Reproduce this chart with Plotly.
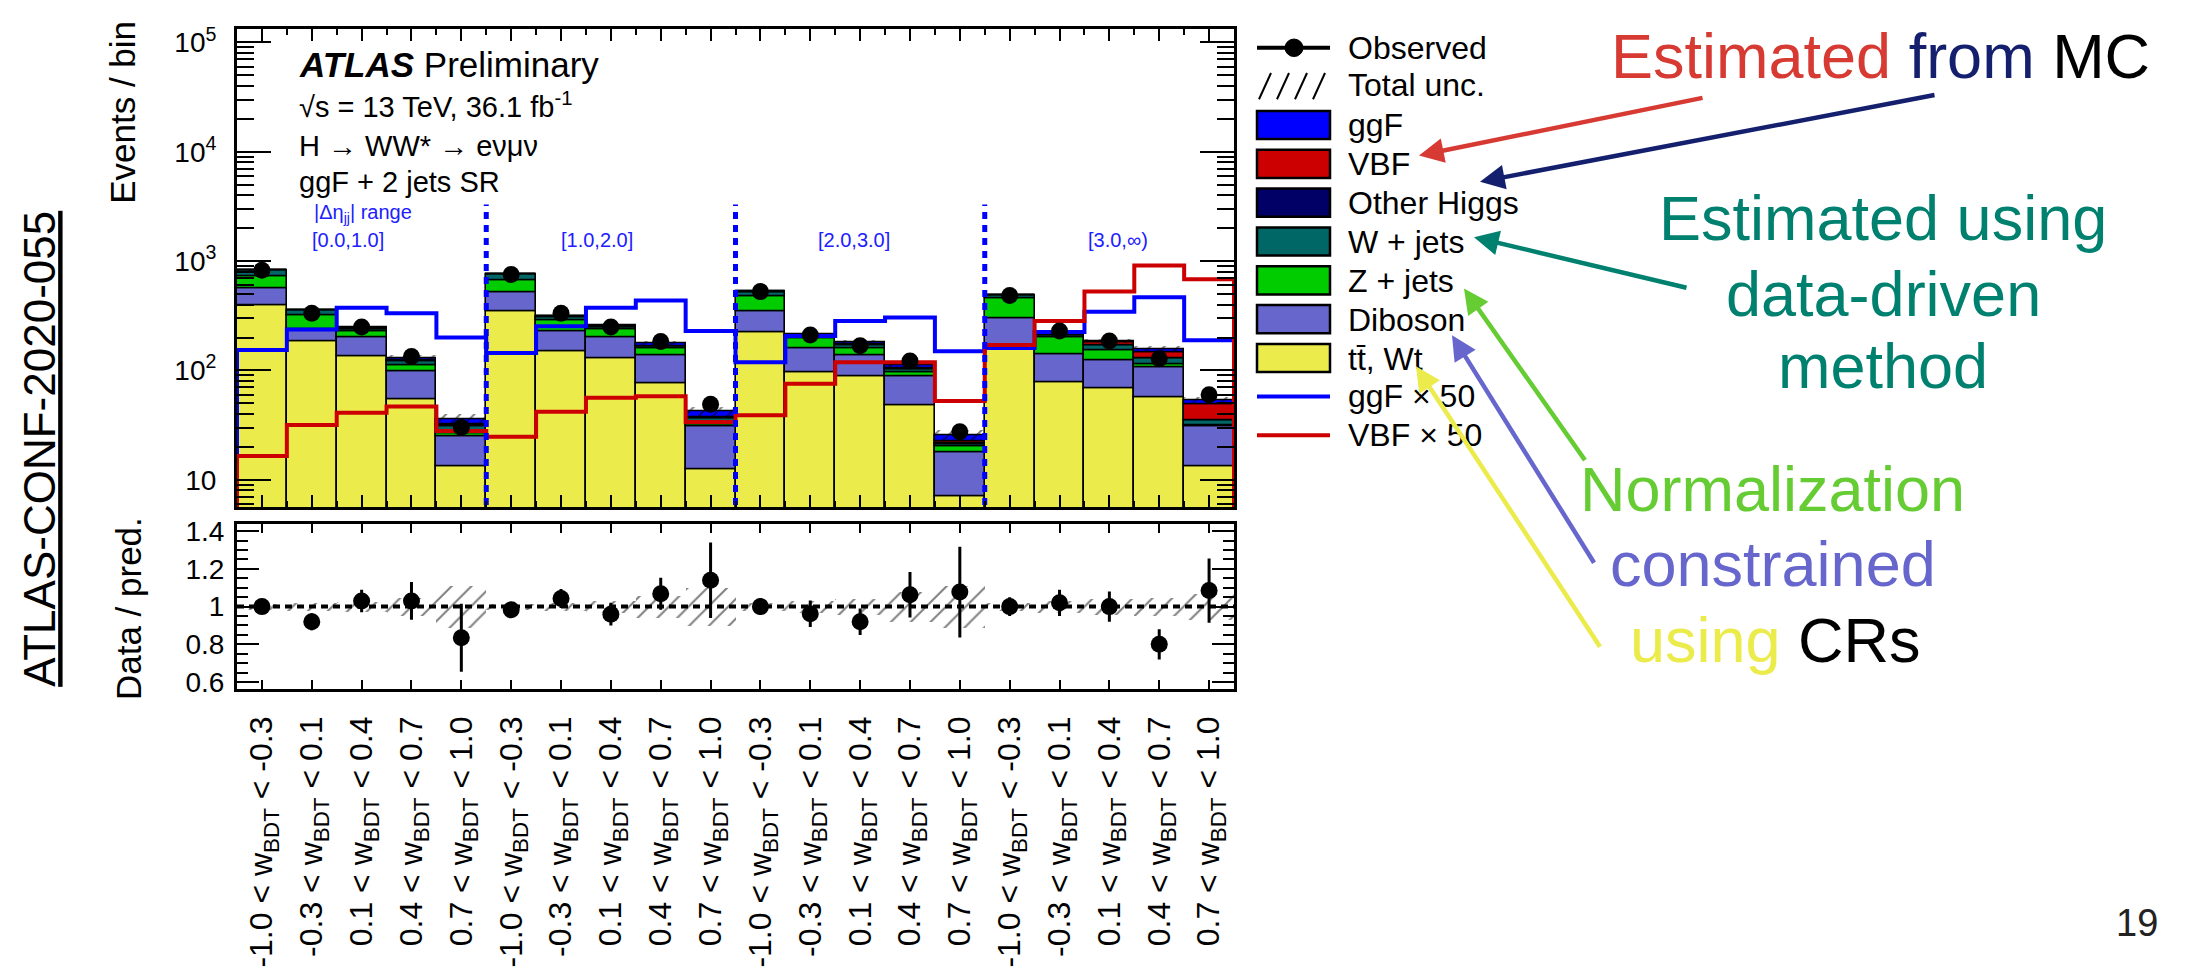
import numpy as np
import plotly.graph_objects as go

W, H = 2185, 968
FONT = "Liberation Sans, Arial, Helvetica, sans-serif"


def px(x):
    return x / W


def py(y):
    return 1 - y / H


# ---------------- data ----------------
bin_centers = [i + 0.5 for i in range(20)]
bin_edges = list(range(21))
bdt_ranges = [("-1.0", "-0.3"), ("-0.3", "0.1"), ("0.1", "0.4"), ("0.4", "0.7"), ("0.7", "1.0")]
tick_labels = [f"{lo} &lt; w<sub>BDT</sub> &lt; {hi}" for _ in range(4) for lo, hi in bdt_ranges]
region_labels = ["[0.0,1.0]", "[1.0,2.0]", "[2.0,3.0]", "[3.0,∞)"]

ttbar = [395, 186, 136, 54.5, 13.4, 344, 150, 130, 76.6, 12.5,
         221, 97, 88, 47.5, 7.0, 165, 77.6, 69, 56.4, 13.4]
diboson = [169, 51, 66, 44.5, 11.4, 175, 79, 72, 60.4, 18,
           128, 63, 49, 40.5, 10.9, 136, 62.4, 56, 49.6, 17.1]
zjets = [166, 84, 27, 12, 1.7, 154, 56, 38, 23, 1.5,
         126, 37, 23, 7.3, 2.3, 152, 60, 29, 8, 1.0]
wjets = [90, 30, 10, 11, 4.5, 78, 24, 9, 5, 4.5,
         47, 10, 11.4, 6.7, 1.0, 30, 10, 14, 14, 3.5]
other_higgs = [1, 0.5, 0.5, 0.5, 0.3, 1, 0.5, 0.5, 0.5, 0.3,
               1, 0.5, 0.5, 0.5, 0.3, 1, 0.5, 0.5, 1, 0.3]
ggf_x50 = [154, 237, 374, 333, 200, 144, 254, 374, 437, 229,
           119, 206, 284, 305, 150, 160, 225, 344, 468, 189]
vbf_x50 = [16.5, 31.7, 41, 46.9, 27.9, 24.8, 42, 56.4, 58, 33.7,
           39, 75.5, 119, 119, 52.6, 171, 284, 526, 914, 683]
observed = [826, 333, 250, 134, 30, 755, 333, 250, 184, 49,
            526, 211, 168, 122, 27.5, 485, 229, 186, 128, 60]
ratio = [1.00, 0.92, 1.03, 1.03, 0.835, 0.983, 1.043, 0.96, 1.068, 1.14,
         1.00, 0.962, 0.92, 1.063, 1.077, 1.00, 1.02, 1.00, 0.80, 1.085]
ratio_err = [0.02, 0.045, 0.06, 0.1, 0.18, 0.025, 0.05, 0.06, 0.085, 0.2,
             0.045, 0.07, 0.07, 0.12, 0.24, 0.05, 0.07, 0.08, 0.08, 0.17]
total_unc = [0.015, 0.02, 0.025, 0.05, 0.11, 0.015, 0.02, 0.03, 0.06, 0.1,
             0.02, 0.03, 0.04, 0.08, 0.11, 0.02, 0.03, 0.04, 0.05, 0.07]
divider_top = 3300

ggf = [v / 50 for v in ggf_x50]
vbf = [v / 50 for v in vbf_x50]

colors = {
    "ggF": "#0000ff", "VBF": "#cc0000", "Other Higgs": "#000066",
    "W + jets": "#006666", "Z + jets": "#00cc00", "Diboson": "#6666cc",
    "tt": "#ebeb4b",
}

stack = [
    ("tt̄, Wt", ttbar, colors["tt"]),
    ("Diboson", diboson, colors["Diboson"]),
    ("Z + jets", zjets, colors["Z + jets"]),
    ("W + jets", wjets, colors["W + jets"]),
    ("Other Higgs", other_higgs, colors["Other Higgs"]),
    ("VBF", vbf, colors["VBF"]),
    ("ggF", ggf, colors["ggF"]),
]

fig = go.Figure()

cum = np.zeros(20)
for i, (name, vals, col) in enumerate(stack):
    vals = np.array(vals, dtype=float)
    fig.add_trace(go.Bar(
        x=bin_centers, y=vals, base=(None if i == 0 else cum.copy()), width=1,
        marker=dict(color=col, line=dict(color="black", width=1.6)),
        xaxis="x", yaxis="y", showlegend=False, name=name))
    cum = cum + vals
total = cum

# total uncertainty hatch on main panel
unc = np.array(total_unc)
fig.add_trace(go.Bar(
    x=bin_centers, y=total * 2 * unc, base=total * (1 - unc), width=1,
    marker=dict(color="rgba(0,0,0,0)", line=dict(width=0),
                pattern=dict(shape="/", fgcolor="black", bgcolor="rgba(0,0,0,0)",
                             size=10, solidity=0.2)),
    xaxis="x", yaxis="y", showlegend=False))


def step_xy(vals):
    xs = [0] + bin_edges + [20]
    ys = [0.5] + list(vals) + [vals[-1], 0.5]
    return xs, ys


for vals, col in [(ggf_x50, colors["ggF"]), (vbf_x50, colors["VBF"])]:
    xs, ys = step_xy(vals)
    fig.add_trace(go.Scatter(x=xs, y=ys, mode="lines", line=dict(color=col, width=4, shape="hv"),
                             xaxis="x", yaxis="y", showlegend=False))

# region dividers
dx, dy = [], []
for e in [5, 10, 15]:
    dx += [e, e, None]
    dy += [0.5, divider_top, None]
fig.add_trace(go.Scatter(x=dx, y=dy, mode="lines",
                         line=dict(color="#0000ff", width=5, dash="7px,6px"),
                         xaxis="x", yaxis="y", showlegend=False))

# observed
fig.add_trace(go.Scatter(x=bin_centers, y=observed, mode="markers",
                         marker=dict(color="black", size=17),
                         xaxis="x", yaxis="y", showlegend=False))

# ratio panel
fig.add_trace(go.Bar(
    x=bin_centers, y=2 * unc, base=1 - unc, width=1,
    marker=dict(color="rgba(0,0,0,0)", line=dict(width=0),
                pattern=dict(shape="/", fgcolor="black", bgcolor="rgba(0,0,0,0)",
                             size=14, solidity=0.14)),
    xaxis="x2", yaxis="y2", showlegend=False))
fig.add_trace(go.Scatter(x=[0, 20], y=[1, 1], mode="lines",
                         line=dict(color="black", width=4, dash="7px,5px"),
                         xaxis="x2", yaxis="y2", showlegend=False))
fig.add_trace(go.Scatter(x=bin_centers, y=ratio, mode="markers",
                         marker=dict(color="black", size=17),
                         error_y=dict(type="data", array=ratio_err, color="black",
                                      thickness=3, width=0),
                         xaxis="x2", yaxis="y2", showlegend=False))

# ---------------- axes ----------------
xdom = [px(237), px(1234)]
log_minor = [m * 10 ** e for e in range(0, 6) for m in range(2, 10)]
ratio_minor = [round(0.55 + 0.05 * k, 2) for k in range(19)]

common_x = dict(range=[0, 20], showgrid=False, zeroline=False, showline=True,
                linewidth=3, linecolor="black", mirror="allticks", ticks="inside",
                tickcolor="black", tickwidth=2)

layout = dict(
    width=W, height=H, autosize=False,
    margin=dict(l=0, r=0, t=0, b=0),
    paper_bgcolor="white", plot_bgcolor="white",
    barmode="overlay", bargap=0,
    font=dict(family=FONT, color="black", size=28),
    xaxis=dict(domain=xdom, anchor="y", tickvals=bin_centers, ticklen=12,
               showticklabels=False,
               minor=dict(tickvals=bin_edges, ticklen=6, ticks="inside", tickwidth=2),
               **common_x),
    xaxis2=dict(domain=xdom, anchor="y2", tickvals=bin_centers, ticktext=tick_labels,
                tickangle=-90, ticklen=9, tickfont=dict(size=32, family=FONT),
                ticklabelstandoff=12, **common_x),
    yaxis=dict(domain=[py(515), py(23)], anchor="x", type="log", range=[0.75, 5.12],
               tickvals=[10, 100, 1000, 10000, 100000],
               ticktext=["10", "10<sup>2</sup>", "10<sup>3</sup>", "10<sup>4</sup>", "10<sup>5</sup>"],
               ticks="inside", ticklen=34, tickwidth=2, tickcolor="black",
               minor=dict(tickvals=log_minor, ticklen=17, ticks="inside", tickwidth=2),
               showline=True, linewidth=3, linecolor="black", mirror="allticks",
               showgrid=False, zeroline=False, tickfont=dict(size=28), ticklabelstandoff=12),
    yaxis2=dict(domain=[py(702), py(532)], anchor="x2", range=[0.565, 1.44],
                tickvals=[0.6, 0.8, 1.0, 1.2, 1.4], ticktext=["0.6", "0.8", "1", "1.2", "1.4"],
                ticks="inside", ticklen=22, tickwidth=2, tickcolor="black",
                minor=dict(tickvals=ratio_minor, ticklen=11, ticks="inside", tickwidth=2),
                showline=True, linewidth=3, linecolor="black", mirror="allticks",
                showgrid=False, zeroline=False, tickfont=dict(size=28), ticklabelstandoff=4),
)
fig.update_layout(**layout)

ann = []
shapes = []


def text(x, y, t, size, color="black", xanchor="left", angle=0):
    ann.append(dict(x=px(x), y=py(y), xref="paper", yref="paper", text=t, showarrow=False,
                    xanchor=xanchor, yanchor="middle", textangle=angle,
                    font=dict(family=FONT, size=size, color=color)))


# axis titles
text(123, 109, "Events / bin", 35, xanchor="center", angle=-90)
text(128, 620, "Data / pred.", 35, xanchor="center", angle=-90)
text(40, 455, "<u>ATLAS-CONF-2020-055</u>", 44, xanchor="center", angle=-90)

# labels inside the plot
text(297, 59, "<b><i>ATLAS</i></b> Preliminary", 35)
text(297, 101, "√s = 13 TeV, 36.1 fb<sup>-1</sup>", 29)
text(297, 143, "H → WW* → eνμν", 29)
text(297, 180, "ggF + 2 jets SR", 29)
text(312, 213, "|Δη<sub>jj</sub>| range", 20, color="#2020ff")
for lab, cx in zip(region_labels, [348, 597, 854, 1118]):
    text(cx, 240, lab, 20, color="#2020ff", xanchor="center")

# legend (drawn)
LX0, LX1, TX = 1257, 1330, 1346
shapes.append(dict(type="line", xref="paper", yref="paper", x0=px(LX0), x1=px(LX1),
                   y0=py(42), y1=py(42), line=dict(color="black", width=4)))
shapes.append(dict(type="circle", xref="paper", yref="paper", x0=px(1285), x1=px(1303),
                   y0=py(51), y1=py(33), fillcolor="black", line=dict(color="black", width=1)))
for k in range(4):
    x0 = LX0 + 2 + 18 * k
    shapes.append(dict(type="line", xref="paper", yref="paper", x0=px(x0), x1=px(x0 + 12),
                       y0=py(95), y1=py(68), line=dict(color="black", width=2)))
text(TX, 42, "Observed", 32)
text(TX, 80, "Total unc.", 32)
box_items = [("ggF", colors["ggF"]), ("VBF", colors["VBF"]), ("Other Higgs", colors["Other Higgs"]),
             ("W + jets", colors["W + jets"]), ("Z + jets", colors["Z + jets"]),
             ("Diboson", colors["Diboson"]), ("tt̄, Wt", colors["tt"])]
for k, (lab, col) in enumerate(box_items):
    y0 = 107 + 40 * k
    shapes.append(dict(type="rect", xref="paper", yref="paper", x0=px(LX0), x1=px(LX1),
                       y0=py(y0 + 29), y1=py(y0), fillcolor=col, line=dict(color="black", width=2.5)))
    text(TX, y0 + 15, lab, 32)
for k, (lab, col) in enumerate([("ggF × 50", colors["ggF"]), ("VBF × 50", colors["VBF"])]):
    yy = 401 + 40 * k
    shapes.append(dict(type="line", xref="paper", yref="paper", x0=px(LX0), x1=px(LX1),
                       y0=py(yy), y1=py(yy), line=dict(color=col, width=4)))
    text(TX, yy, lab, 32)

# right-side commentary
RED, NAVY, TEAL = "#d63a33", "#14206e", "#00806f"
GREEN, PURPLE, YELLOW = "#66cc33", "#6666cc", "#ebeb4b"
text(1880, 50, f"<span style='color:{RED}'>Estimated</span> <span style='color:{NAVY}'>from</span> MC",
     63, xanchor="center")
text(1883, 217, "Estimated using", 63, color=TEAL, xanchor="center")
text(1883, 296, "data-driven", 63, color=TEAL, xanchor="center")
text(1883, 370, "method", 63, color=TEAL, xanchor="center")
text(1772, 496, "Normalization", 63, color=GREEN, xanchor="center")
text(1773, 574, "constrained", 63, color=PURPLE, xanchor="center")
text(1775, 652, f"<span style='color:{YELLOW}'>using</span> CRs", 63, xanchor="center")
text(2137, 943, "19", 38, color="#222222", xanchor="center")

arrows = [
    ((1419, 153), (1704, 95), RED),
    ((1480, 180), (1936, 93), NAVY),
    ((1474, 237), (1688, 288), TEAL),
    ((1464, 290), (1586, 463), GREEN),
    ((1452, 338), (1595, 567), PURPLE),
    ((1416, 370), (1601, 652), YELLOW),
]
for (tx, ty), (sx, sy), col in arrows:
    ann.append(dict(x=px(tx), y=py(ty), xref="paper", yref="paper", text="", showarrow=True,
                    ax=sx - tx, ay=sy - ty, arrowhead=2, arrowsize=1.1, arrowwidth=4.5,
                    arrowcolor=col, standoff=0))

fig.update_layout(annotations=ann, shapes=shapes)
fig.write_html("out.html")
